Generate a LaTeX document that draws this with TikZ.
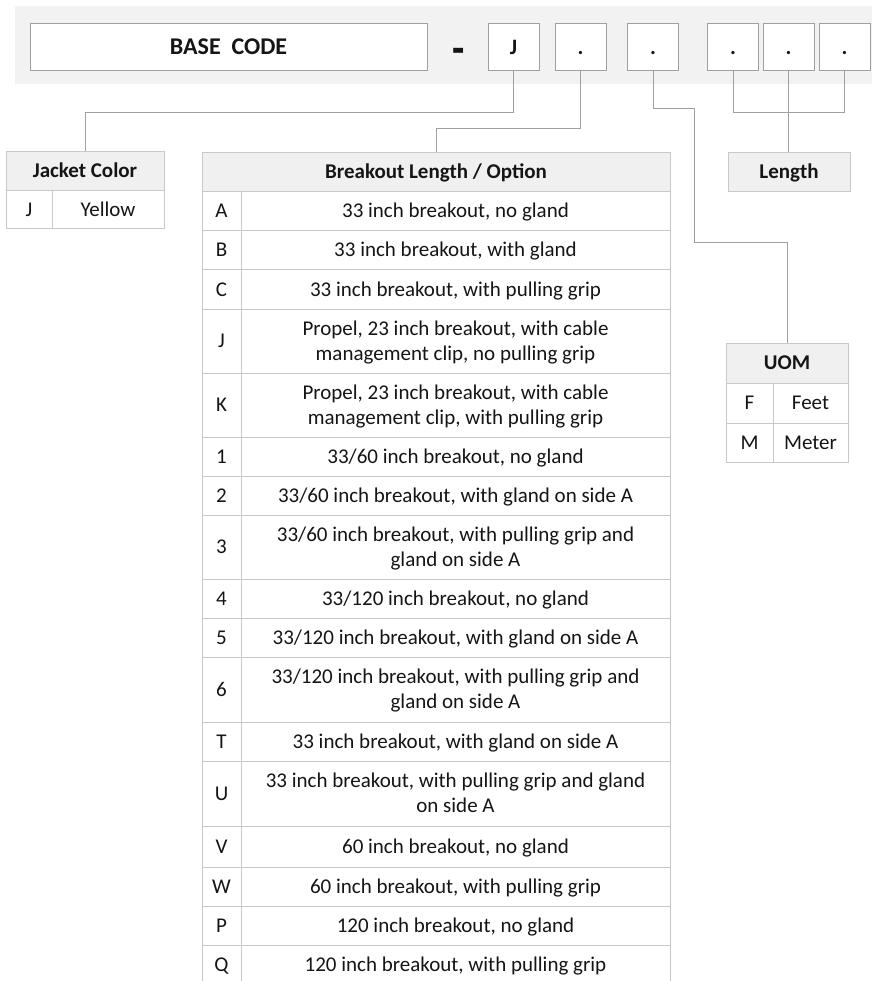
\documentclass[tikz,border=0pt]{standalone}
\usepackage{fontspec}
\setmainfont{Carlito}
\definecolor{bandfill}{HTML}{F2F2F2}
\definecolor{hdrfill}{HTML}{F0F0F0}
\definecolor{tabline}{HTML}{C8C8C8}
\definecolor{boxline}{HTML}{A0A0A0}
\definecolor{connline}{HTML}{A0A0A0}
\definecolor{textcol}{HTML}{151515}
\newcommand\cst{\rule[-5.5pt]{0pt}{24pt}}
\newcommand\brow[4]{%
  \node[cell, minimum width=39pt, minimum height={#3-#2}] (k#1) at (221.5,{(#2+#3)/2}) {\cst #1};
  \node[cell, minimum width=429pt, minimum height={#3-#2}] (d#1) at (455.5,{(#2+#3)/2}) {\cst #4\cst};
}
\begin{document}
\begin{tikzpicture}[x=1pt,y=-1pt,
  cell/.style={draw=tabline, line width=1pt, fill=white, inner sep=0pt, align=center,
    font=\fontsize{21}{25}\selectfont, text=textcol},
  hcell/.style={cell, fill=hdrfill, font=\bfseries\fontsize{21}{25}\selectfont},
  codebox/.style={draw=boxline, line width=1pt, fill=white, inner sep=0pt,
    minimum width=51pt, minimum height=47pt, text=textcol,
    font=\bfseries\fontsize{22}{24}\selectfont},
  conn/.style={draw=connline, line width=1pt}]
\useasboundingbox (0,0) rectangle (872,981);
\fill[bandfill] (15,6) rectangle (872,84);
% code boxes
\node[codebox, minimum width=397pt, font=\bfseries\fontsize{24}{28}\selectfont] (base) at (228.5,47) {BASE\ \ CODE};
\node[text=textcol, font=\bfseries\fontsize{40}{40}\selectfont, inner sep=0pt, anchor=base] (dash) at (459,64.5) {\scalebox{1}[1.2]{-}};
\node[codebox] (bJ) at (513.5,47) {J};
\node[codebox] (b2) at (580.5,47) {\vphantom{J}.};
\node[codebox] (b3) at (653,47) {\vphantom{J}.};
\node[codebox] (b4) at (733,47) {\vphantom{J}.};
\node[codebox] (b5) at (788.5,47) {\vphantom{J}.};
\node[codebox] (b6) at (844.5,47) {\vphantom{J}.};
% Jacket color table
\node[hcell, minimum width=158pt, minimum height=39pt] (jk) at (85,171.5) {\cst Jacket Color};
\node[cell, minimum width=46pt, minimum height=38pt] (jkJ) at (29,210) {\cst J};
\node[cell, minimum width=112pt, minimum height=38pt] (jkY) at (108,210) {\cst Yellow};
% Length
\node[hcell, minimum width=122pt, minimum height=39pt] (len) at (789,172.5) {\cst Length};
% UOM table
\node[hcell, minimum width=122pt, minimum height=40pt] (uom) at (787,363) {\cst UOM};
\node[cell, minimum width=47pt, minimum height=40pt] (uF) at (749.5,403) {\cst F};
\node[cell, minimum width=75pt, minimum height=40pt] (uFeet) at (810.5,403) {\cst Feet};
\node[cell, minimum width=47pt, minimum height=39pt] (uM) at (749.5,442.5) {\cst M};
\node[cell, minimum width=75pt, minimum height=39pt] (uMeter) at (810.5,442.5) {\cst Meter};
% Breakout table
\node[hcell, minimum width=468pt, minimum height=39pt] (bo) at (436,172.5) {\cst Breakout Length / Option};
\brow{A}{192}{231}{33 inch breakout, no gland}
\brow{B}{231}{270}{33 inch breakout, with gland}
\brow{C}{270}{309}{33 inch breakout, with pulling grip}
\brow{J}{309}{373}{Propel, 23 inch breakout, with cable\\management clip, no pulling grip}
\brow{K}{373}{437}{Propel, 23 inch breakout, with cable\\management clip, with pulling grip}
\brow{1}{437}{476}{33/60 inch breakout, no gland}
\brow{2}{476}{515}{33/60 inch breakout, with gland on side A}
\brow{3}{515}{579}{33/60 inch breakout, with pulling grip and\\gland on side A}
\brow{4}{579}{618}{33/120 inch breakout, no gland}
\brow{5}{618}{657}{33/120 inch breakout, with gland on side A}
\brow{6}{657}{722}{33/120 inch breakout, with pulling grip and\\gland on side A}
\brow{T}{722}{761}{33 inch breakout, with gland on side A}
\brow{U}{761}{826}{33 inch breakout, with pulling grip and gland\\on side A}
\brow{V}{826}{867}{60 inch breakout, no gland}
\brow{W}{867}{906}{60 inch breakout, with pulling grip}
\brow{P}{906}{945}{120 inch breakout, no gland}
\brow{Q}{945}{985}{120 inch breakout, with pulling grip}
% connectors
\coordinate (u1) at (694,243);
\draw[conn] (bJ.south) -- ++(0,41.5) -| (jk.north);
\draw[conn] (b2.south) -- ++(0,57.5) -| (bo.north);
\draw[conn] (b3.south) -- ++(0,37.5) -| (u1) -| (uom.north);
\draw[conn] (b4.south) -- ++(0,41.5) -| (b6.south);
\draw[conn] (b5.south) -- (b5.south |- len.north);
\end{tikzpicture}
\end{document}
